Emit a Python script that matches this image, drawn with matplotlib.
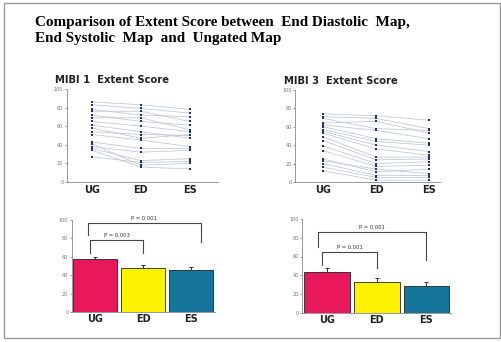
import matplotlib.pyplot as plt
from matplotlib.patches import Rectangle

groups = ["UG", "ED", "ES"]

# MIBI 1 extent score per patient (UG, ED, ES)
ug1 = [86, 83, 78, 76, 72, 69, 65, 61, 58, 54, 51, 43, 41, 38, 36, 34, 27]
ed1 = [83, 79, 72, 76, 65, 69, 60, 54, 47, 51, 45, 36, 18, 32, 23, 16, 21]
es1 = [78, 74, 70, 65, 61, 56, 54, 47, 51, 50, 38, 36, 20, 34, 25, 14, 22]

# MIBI 3 extent score per patient
ug3 = [74, 71, 69, 64, 62, 60, 57, 55, 53, 49, 45, 39, 34, 25, 23, 20, 16, 12]
ed3 = [72, 69, 58, 66, 56, 47, 44, 40, 36, 27, 24, 20, 17, 11, 14, 7, 5, 2]
es3 = [67, 58, 56, 53, 47, 42, 40, 33, 29, 27, 25, 22, 18, 14, 9, 7, 5, 2]

# bar means and error (upper)
mean1 = [57, 48, 46]
err1 = [3, 3, 3]
mean3 = [43, 33, 29]
err3 = [5, 4, 4]

bar_colors = ["#e8185a", "#fff200", "#16759c"]
tick_col = "#777777"

fig = plt.figure(figsize=(5.02, 3.42), dpi=100)
fig.patch.set_facecolor("white")
fig.patches.append(Rectangle((0.008, 0.012), 0.988, 0.978, transform=fig.transFigure,
                             fill=False, edgecolor="#9a9a9a", linewidth=1.0))

fig.text(0.07, 0.935, "Comparison of Extent Score between  End Diastolic  Map,",
         family="Liberation Serif", weight="bold", fontsize=10.9, va="center")
fig.text(0.07, 0.888, "End Systolic  Map  and  Ungated Map",
         family="Liberation Serif", weight="bold", fontsize=10.9, va="center")


def style(ax, pad):
    for s in ["top", "right"]:
        ax.spines[s].set_visible(False)
    for s in ["left", "bottom"]:
        ax.spines[s].set_color("#888888")
        ax.spines[s].set_linewidth(0.6)
    ax.set_ylim(0, 100)
    ax.set_yticks(range(0, 101, 20))
    ax.tick_params(axis="y", labelsize=3.5, colors=tick_col, length=1.5, width=0.5, pad=1)
    ax.tick_params(axis="x", labelsize=7, length=0, pad=pad, colors="#222222")
    ax.set_xticks([0, 1, 2])
    ax.set_xticklabels(groups, fontweight="bold")
    ax.set_facecolor("white")


def lines(ax, ug, ed, es, title):
    for a, b, c in zip(ug, ed, es):
        ax.plot([0, 1, 2], [a, b, c], color="#bcc6d8", linewidth=0.55, zorder=1)
    for i, vals in enumerate([ug, ed, es]):
        ax.scatter([i] * len(vals), vals, s=3.5, marker="s", color="#1e3568", zorder=2, linewidths=0)
    style(ax, 2.5)
    ax.set_title(title, fontsize=7.2, fontweight="bold", loc="left", x=-0.08, pad=4, color="#222222")


def bars(ax, means, errs, brackets):
    ax.bar([0, 1, 2], means, width=0.92, color=bar_colors, edgecolor="#222222", linewidth=0.6, zorder=2)
    ax.errorbar([0, 1, 2], means, yerr=[[0, 0, 0], errs], fmt="none", ecolor="#333333",
                elinewidth=0.7, capsize=1.2, capthick=0.7, zorder=3)
    for x0, x1, y, d0, d1, txt in brackets:
        ax.plot([x0, x0, x1, x1], [d0, y, y, d1], color="#444444", linewidth=0.8, zorder=3)
        ax.text((x0 + x1) / 2, y + 2, txt, fontsize=3.8, ha="center", va="bottom", color="#333333")
    style(ax, 1.5)


ax1 = fig.add_axes([0.133, 0.468, 0.301, 0.272])
lines(ax1, ug1, ed1, es1, "MIBI 1  Extent Score")
ax1.set_xlim(-0.51, 2.57)

ax2 = fig.add_axes([0.588, 0.468, 0.289, 0.269])
lines(ax2, ug3, ed3, es3, "MIBI 3  Extent Score")
ax2.set_xlim(-0.53, 2.21)

ax3 = fig.add_axes([0.143, 0.088, 0.285, 0.269])
bars(ax3, mean1, err1, [(-0.15, 2.2, 97, 84, 76, "P = 0.001"),
                        (-0.1, 1.0, 78, 64, 64, "P = 0.003")])
ax3.set_xlim(-0.49, 2.5)

ax4 = fig.add_axes([0.602, 0.085, 0.297, 0.275])
bars(ax4, mean3, err3, [(-0.18, 2.0, 86, 70, 56, "P = 0.001"),
                        (-0.1, 1.0, 65, 51, 48, "P = 0.001")])
ax4.set_xlim(-0.505, 2.5)

fig.savefig("out.png", dpi=100)
